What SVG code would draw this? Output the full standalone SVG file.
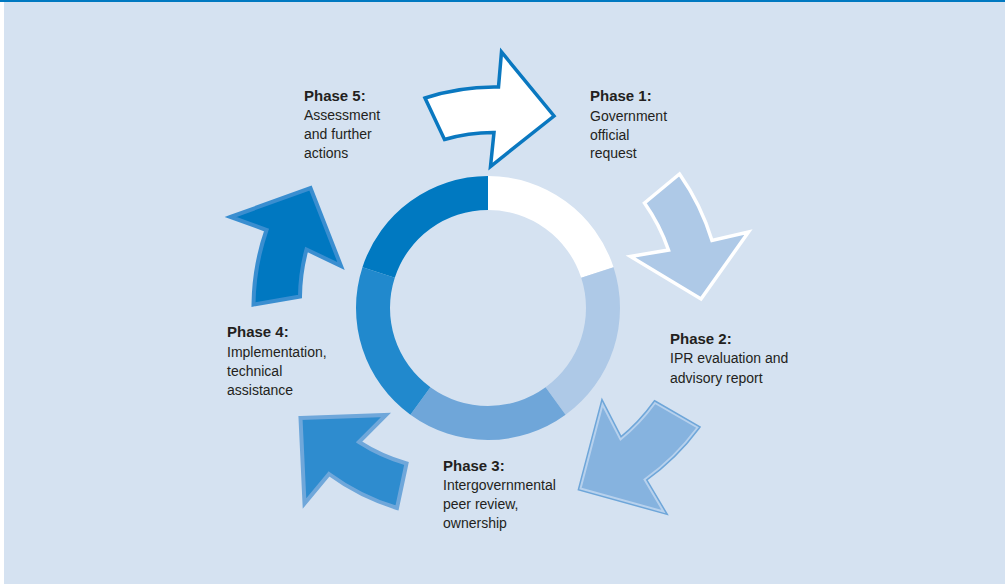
<svg xmlns="http://www.w3.org/2000/svg" width="1005" height="584" viewBox="0 0 1005 584">
<style>
.t{font-family:"Liberation Sans",Arial,sans-serif;font-size:14px;fill:#231f20}
.h{font-weight:bold;font-size:15px}
</style>
<rect x="0" y="0" width="1005" height="584" fill="#ffffff"/>
<rect x="4" y="2" width="1001" height="582" fill="#d5e2f1"/>
<rect x="0" y="0" width="1005" height="2" fill="#0079c1"/>
<g id="ring">
<path d="M488,176 A132,132 0 0 1 613.54,267.21 L581.21,277.72 A98,98 0 0 0 488,210 Z" fill="#ffffff"/>
<path d="M613.54,267.21 A132,132 0 0 1 565.59,414.79 L545.6,387.28 A98,98 0 0 0 581.21,277.72 Z" fill="#aec9e7"/>
<path d="M565.59,414.79 A132,132 0 0 1 410.41,414.79 L430.4,387.28 A98,98 0 0 0 545.6,387.28 Z" fill="#6fa6d9"/>
<path d="M410.41,414.79 A132,132 0 0 1 362.46,267.21 L394.79,277.72 A98,98 0 0 0 430.4,387.28 Z" fill="#2189cd"/>
<path d="M362.46,267.21 A132,132 0 0 1 488,176 L488,210 A98,98 0 0 0 394.79,277.72 Z" fill="#0079c1"/>
</g>
<g id="connectors">
<path id="arrow-5-1" d="M425,98 A222,222 0 0 1 498.5,87 L501.5,52 L554,116 L490.5,166.5 L494,132.5 A173,173 0 0 0 444.5,139.5 Z" fill="#ffffff" stroke="#0a78c0" stroke-width="3.5" stroke-linejoin="miter"/>
<path id="arrow-1-2" d="M644.5,203 L679.5,174 A235,235 0 0 1 712,240.5 L748.5,232 L701,299 L630.5,256.5 L668.5,250 A187,187 0 0 0 644.5,203 Z" fill="#aec9e7" stroke="#ffffff" stroke-width="3.5"/>
<path id="arrow-2-3" d="M655,403 L697.5,427.5 A237,237 0 0 1 644.5,479.5 L663.5,511.5 L580.5,488.5 L602.5,404.5 L620.5,439.5 A188,188 0 0 0 655,403 Z" fill="#86b3df" stroke="#6ea6d9" stroke-width="5"/>
<path d="M655,403 L697.5,427.5 A237,237 0 0 1 644.5,479.5 L663.5,511.5 L580.5,488.5 L602.5,404.5 L620.5,439.5 A188,188 0 0 0 655,403 Z" fill="#86b3df" stroke="#b7d1ed" stroke-width="2"/>
<path id="arrow-3-4" d="M300.5,418 L386,415 L359,442 A180,180 0 0 0 406.5,463.5 L397,508 A226,226 0 0 1 329,474 L304.5,503.5 Z" fill="#2e8ccf" stroke="#6fa7da" stroke-width="4"/>
<path id="arrow-4-5" d="M230.5,217 L310.5,188 L341,266 L306.5,249.5 A187,187 0 0 0 300,296.5 L253.5,304.5 A236,236 0 0 1 266.5,230 Z" fill="#0078c1" stroke="#3a8ed0" stroke-width="4"/>
</g>
<g id="phase1">
<text class="t h" x="590" y="101">Phase 1:</text>
<text class="t" x="590" y="121">Government</text>
<text class="t" x="590" y="140">official</text>
<text class="t" x="590" y="158">request</text>
</g>
<g id="phase2">
<text class="t h" x="670" y="344">Phase 2:</text>
<text class="t" x="670" y="363">IPR evaluation and</text>
<text class="t" x="670" y="383">advisory report</text>
</g>
<g id="phase3">
<text class="t h" x="443" y="471">Phase 3:</text>
<text class="t" x="443" y="490">Intergovernmental</text>
<text class="t" x="443" y="509">peer review,</text>
<text class="t" x="443" y="528">ownership</text>
</g>
<g id="phase4">
<text class="t h" x="227" y="337">Phase 4:</text>
<text class="t" x="227" y="357">Implementation,</text>
<text class="t" x="227" y="376">technical</text>
<text class="t" x="227" y="395">assistance</text>
</g>
<g id="phase5">
<text class="t h" x="304" y="101">Phase 5:</text>
<text class="t" x="304" y="120">Assessment</text>
<text class="t" x="304" y="139">and further</text>
<text class="t" x="304" y="158">actions</text>
</g>
</svg>
